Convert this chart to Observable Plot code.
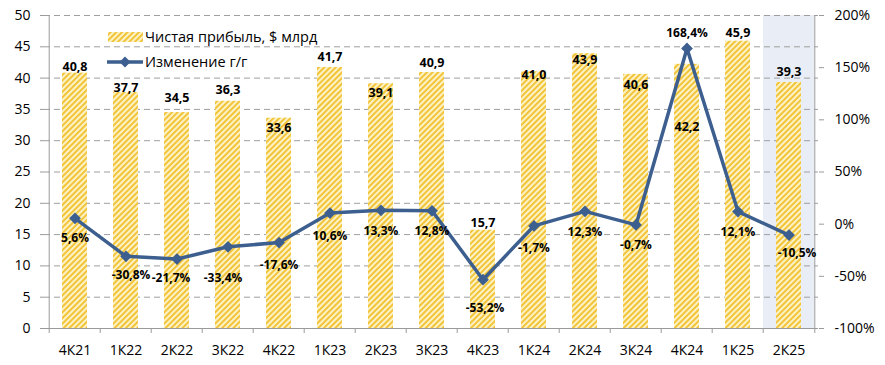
<!DOCTYPE html>
<html><head><meta charset="utf-8">
<script src="https://cdn.jsdelivr.net/npm/d3@7"></script>
<script src="https://cdn.jsdelivr.net/npm/@observablehq/plot@0.6"></script>
<style>body{margin:0;background:#fff;}</style>
</head><body><div id="chart"></div>
<script>
const categories = ["4К21","1К22","2К22","3К22","4К22","1К23","2К23","3К23","4К23","1К24","2К24","3К24","4К24","1К25","2К25"];
const profit = [40.8, 37.7, 34.5, 36.3, 33.6, 41.7, 39.1, 40.9, 15.7, 41.0, 43.9, 40.6, 42.2, 45.9, 39.3];
const profitLabels = ["40,8","37,7","34,5","36,3","33,6","41,7","39,1","40,9","15,7","41,0","43,9","40,6","42,2","45,9","39,3"];
const growth = [5.6, -30.8, -33.4, -21.7, -17.6, 10.6, 13.3, 12.8, -53.2, -1.7, 12.3, -0.7, 168.4, 12.1, -10.5];
const growthLabels = ["5,6%","-30,8%","-21,7%","-33,4%","-17,6%","10,6%","13,3%","12,8%","-53,2%","-1,7%","12,3%","-0,7%","168,4%","12,1%","-10,5%"];
const leftTicks = [0,5,10,15,20,25,30,35,40,45,50];
const rightTicks = [-100,-50,0,50,100,150,200];
const highlighted = ["2К25"];
const legendLabels = ["Чистая прибыль, $ млрд", "Изменение г/г"];

const data = categories.map((c, i) => ({cat: c, profit: profit[i], growth: growth[i], pl: profitLabels[i], gl: growthLabels[i]}));
const g2y = g => (g + 100) / 300 * 50;

// layout (pixels)
const W = 885, H = 365, mL = 44, mR = 67, mT = 15, mB = 37;
const step = (W - mL - mR) / categories.length;
const barLabelDy = [-6,-4,-15,-11,10,-10,9,-9,-7,3,6,11,63,-8,-10];
const growthLabelDy = [20,19,19,31,23,23,21,20,28,22,21,20,-15,21,18];
const growthLabelDx = [0,5,-6,-5,0,0,0,0,2,0,0,0,0,0,8];
const axisColor = "#9a9a9a";
const lineColor = "#3d5f8f";

const barLabelMarks = data.map((d, i) => Plot.text([d], {
  x: "cat", y: "profit", text: "pl", dy: barLabelDy[i],
  fontWeight: "bold", fontSize: 12.5, fill: "#000"
}));
const growthLabelMarks = data.map((d, i) => Plot.text([d], {
  x: "cat", y: d => g2y(d.growth), text: "gl", dy: growthLabelDy[i], dx: growthLabelDx[i],
  fontWeight: "bold", fontSize: 12, fill: "#000"
}));

function legendMark() {
  const g = d3.create("svg:g").attr("text-anchor", "start");
  g.append("rect").attr("x", 108).attr("y", 32).attr("width", 35).attr("height", 10).attr("fill", "url(#hatch)");
  g.append("text").attr("x", 145).attr("y", 37).attr("dy", "0.35em")
    .attr("font-size", 14.5).attr("fill", "#000").text(legendLabels[0]);
  g.append("line").attr("x1", 107).attr("x2", 143).attr("y1", 62).attr("y2", 62)
    .attr("stroke", lineColor).attr("stroke-width", 3.5);
  g.append("path").attr("d", "M125,56.5L130.5,62L125,67.5L119.5,62Z").attr("fill", lineColor);
  g.append("text").attr("x", 145).attr("y", 62).attr("dy", "0.35em")
    .attr("font-size", 14.5).attr("fill", "#000").text(legendLabels[1]);
  return g.node();
}

const chart = Plot.plot({
  width: W, height: H,
  marginLeft: mL, marginRight: mR, marginTop: mT, marginBottom: mB,
  style: {fontFamily: "'Open Sans', sans-serif", fontSize: "14px", background: "#fff", color: "#000"},
  x: {type: "band", domain: categories, padding: 0},
  y: {domain: [0, 50]},
  marks: [
    Plot.barY(highlighted, {x: d => d, y1: 0, y2: 50, fill: "#e9eef6"}),
    Plot.gridY({ticks: leftTicks.filter(t => t > 0), stroke: "#9e9e9e", strokeOpacity: 1, strokeDasharray: "6,4"}),
    Plot.barY(data, {x: "cat", y: "profit", fill: "url(#hatch)", insetLeft: 13, insetRight: 13}),
    Plot.ruleY([0], {stroke: axisColor}),
    Plot.ruleX([categories[0]], {x: d => d, y1: 0, y2: 50, dx: -step / 2, stroke: axisColor}),
    Plot.ruleX([categories[categories.length - 1]], {x: d => d, y1: 0, y2: 50, dx: step / 2, stroke: axisColor}),
    Plot.ruleX(categories, {x: d => d, y1: 0, y2: -0.8, dx: -step / 2, stroke: axisColor}),
    Plot.ruleX([categories[categories.length - 1]], {x: d => d, y1: 0, y2: -0.8, dx: step / 2, stroke: axisColor}),
    Plot.axisY({anchor: "left", ticks: leftTicks, tickSize: 4, tickPadding: 10, fontSize: 14, stroke: axisColor, fill: "#000", label: null}),
    Plot.axisY({anchor: "right", ticks: rightTicks.map(g2y), tickFormat: v => Math.round(v * 6 - 100) + "%", tickSize: 5, tickPadding: 11, fontSize: 14, stroke: axisColor, fill: "#000", label: null}),
    Plot.axisX({tickSize: 0, tickPadding: 17, fontSize: 14, fill: "#000", label: null}),
    Plot.line(data, {x: "cat", y: d => g2y(d.growth), stroke: lineColor, strokeWidth: 3.5, curve: "linear"}),
    Plot.dot(data, {x: "cat", y: d => g2y(d.growth), symbol: "diamond2", r: 5.3, fill: lineColor, stroke: "none"}),
    ...barLabelMarks,
    ...growthLabelMarks,
    legendMark
  ]
});

d3.select(chart).insert("defs", ":first-child").html(
  '<pattern id="hatch" patternUnits="userSpaceOnUse" width="4" height="4" patternTransform="rotate(45)">' +
  '<rect width="4" height="4" fill="#fdf2c6"/>' +
  '<line x1="1" y1="0" x2="1" y2="4" stroke="#f1c43a" stroke-width="2"/></pattern>'
);
document.getElementById("chart").appendChild(chart);
</script>
</body></html>
